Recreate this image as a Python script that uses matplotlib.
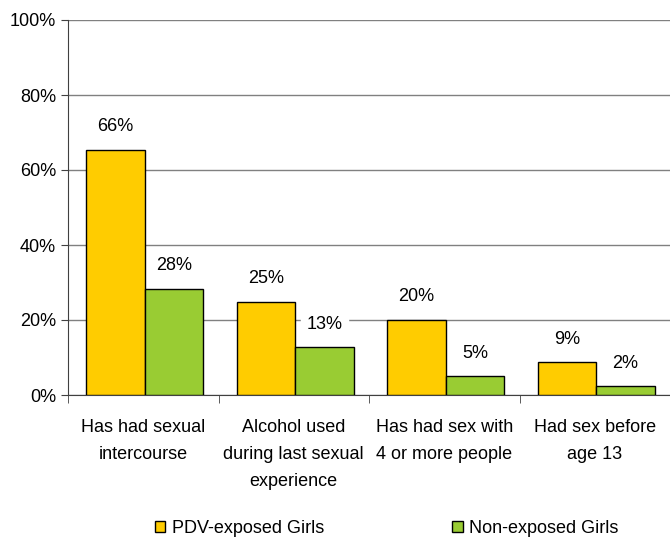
import matplotlib.pyplot as plt
import numpy as np

plt.rcParams['font.family'] = ['Liberation Sans', 'DejaVu Sans']

categories = ["Has had sexual\nintercourse",
              "Alcohol used\nduring last sexual\nexperience",
              "Has had sex with\n4 or more people",
              "Had sex before\nage 13"]
pdv = [65.4, 24.8, 20.0, 8.7]
non = [28.3, 12.7, 5.0, 2.3]
pdv_labels = ["66%", "25%", "20%", "9%"]
non_labels = ["28%", "13%", "5%", "2%"]
yticks = [0, 20, 40, 60, 80, 100]

fig = plt.figure(figsize=(6.7, 5.38), dpi=100)
ax = fig.add_axes([68 / 670, 143 / 538, 602 / 670, 375 / 538])

x = np.arange(len(categories))
w = 0.39
ax.bar(x - w / 2 + 0.01, pdv, w, color="#FFCC00", edgecolor="black", linewidth=1,
       label="PDV-exposed Girls", zorder=3)
ax.bar(x + w / 2 + 0.01, non, w, color="#99CC33", edgecolor="black", linewidth=1,
       label="Non-exposed Girls", zorder=3)

for xi, v, t in zip(x, pdv, pdv_labels):
    ax.text(xi - w / 2 + 0.01, v + 6.2, t, ha="center", va="center", fontsize=13,
            backgroundcolor="white", zorder=4)
for xi, v, t in zip(x, non, non_labels):
    ax.text(xi + w / 2 + 0.01, v + 6.2, t, ha="center", va="center", fontsize=13,
            backgroundcolor="white", zorder=4)

ax.set_xlim(-0.5, 3.5)
ax.set_ylim(0, 100)
ax.set_yticks(yticks)
ax.set_yticklabels([f"{t}%" for t in yticks], fontsize=13)
ax.yaxis.grid(True, color="#808080", linewidth=1, zorder=0)
ax.tick_params(axis="y", length=5, color="#404040")

ax.set_xticks(x)
ax.set_xticklabels(categories, fontsize=13, linespacing=1.78, va="top")
ax.tick_params(axis="x", which="major", length=0, pad=17)
ax.set_xticks(np.arange(-0.5, 4, 1), minor=True)
ax.tick_params(axis="x", which="minor", length=6, color="#404040")

for s in ["top", "right"]:
    ax.spines[s].set_visible(False)
for s in ["left", "bottom"]:
    ax.spines[s].set_color("#404040")

fig.legend(loc="lower center", bbox_to_anchor=(0.577, -0.028), ncol=2, frameon=False,
           fontsize=13, handlelength=0.6, handleheight=0.6, handletextpad=0.35,
           columnspacing=7.1)

fig.savefig("out.png", dpi=100)
